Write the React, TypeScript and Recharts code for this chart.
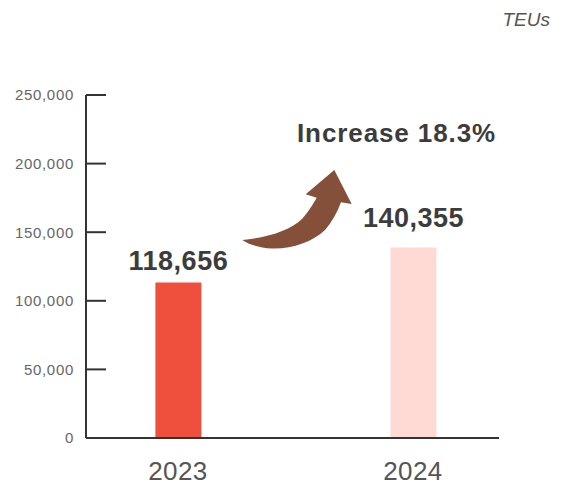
import React from 'react';
import { BarChart, Bar, XAxis, YAxis, Cell, LabelList, Customized } from 'recharts';

const years = ['2023', '2024'];
const barValues = [113300, 138800];
const valueLabels = ['118,656', '140,355'];
const yTicks = [0, 50000, 100000, 150000, 200000, 250000];
const barColors = ['#EF4F3D', '#FFDAD4'];
const increaseText = 'Increase 18.3%';
const unitText = 'TEUs';

const data = years.map((y, i) => ({ x: i, year: y, value: barValues[i], label: valueLabels[i] }));

const FONT = '"Liberation Sans", Arial, Helvetica, sans-serif';
const labelGaps = [12.7, 21];

const fmt = (v: number) => v.toLocaleString('en-US');

const YTick = (props: any) => {
  const { x, y, payload } = props;
  return (
    <g>
      <line x1={x + 12} x2={x + 32} y1={y} y2={y} stroke="#333" strokeWidth={2} />
      <text x={x} y={y} dy="0.36em" textAnchor="end" fill="#666" fontSize={15} letterSpacing={0.7} fontFamily={FONT}>
        {fmt(payload.value)}
      </text>
    </g>
  );
};

const XTick = (props: any) => {
  const { x, y, payload } = props;
  return (
    <text x={x} y={y + 42} textAnchor="middle" fill="#555" fontSize={26} letterSpacing={0.4} fontFamily={FONT}>
      {years[payload.value]}
    </text>
  );
};

const ValueLabel = (props: any) => {
  const { x, y, width, index } = props;
  return (
    <text
      x={x + width / 2}
      y={y - labelGaps[index]}
      textAnchor="middle"
      fill="#3c3c3c"
      fontSize={27}
      fontWeight="bold"
      letterSpacing={0.5}
      fontFamily={FONT}
    >
      {valueLabels[index]}
    </text>
  );
};

const Decorations = () => (
  <g>
    <path
      d="M242.3,240 C265,238 290,231 302,219 C309,211 313,204 316.7,197.7 L305.7,194.3 L334.3,170 L351.7,204 L341,202.3 C337,213 332,222 325,230 C312,242 293,249 272,248.5 C259,248 249,244.5 242.3,240 Z"
      fill="#85503A"
    />
    <text x={297} y={142} fill="#3c3c3c" fontSize={26} fontWeight="bold" letterSpacing={0.9} fontFamily={FONT}>
      {increaseText}
    </text>
    <text x={550} y={26} textAnchor="end" fill="#555" fontSize={19} fontStyle="italic" fontFamily={FONT}>
      {unitText}
    </text>
  </g>
);

export default function App() {
  return (
    <div style={{ position: 'absolute', left: 0, top: 0, width: 565, height: 486, background: '#fff' }}>
      <BarChart width={565} height={486} data={data} margin={{ top: 95, right: 66, bottom: 8, left: 0 }}>
        <XAxis
          dataKey="x"
          type="number"
          domain={[-0.391, 1.366]}
          allowDataOverflow
          ticks={[0, 1]}
          tickLine={false}
          tickSize={0}
          tickMargin={0}
          height={40}
          axisLine={{ stroke: '#333', strokeWidth: 2 }}
          tick={<XTick />}
        />
        <YAxis
          type="number"
          domain={[0, 250000]}
          ticks={yTicks}
          width={86}
          tickLine={false}
          tickSize={10}
          tickMargin={2}
          axisLine={{ stroke: '#333', strokeWidth: 2 }}
          tick={<YTick />}
        />
        <Bar dataKey="value" barSize={46} isAnimationActive={false}>
          {data.map((d, i) => (
            <Cell key={d.year} fill={barColors[i]} />
          ))}
          <LabelList dataKey="label" content={<ValueLabel />} />
        </Bar>
        <Customized component={Decorations} />
      </BarChart>
    </div>
  );
}
